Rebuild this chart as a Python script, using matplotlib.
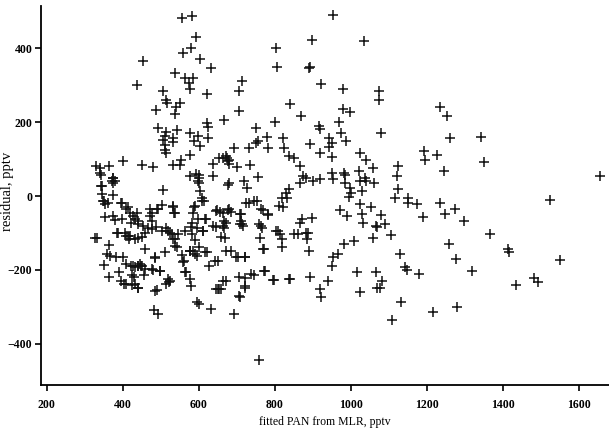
import matplotlib.pyplot as plt

# fitted PAN (pptv) and residual (pptv)
fitted = [557, 582, 953, 593, 805, 899, 1035, 581, 559, 454, 604, 807, 891, 893, 634, 537,
          565, 585, 437, 922, 575, 577, 621, 506, 707, 714, 979, 1074, 1076, 514, 707, 552,
          542, 518, 489, 840, 981, 1235, 1253, 999, 870, 667, 539, 801, 622, 624, 917, 919,
          970, 493, 514, 544, 1261, 1344, 1081, 975, 577, 751, 598, 624, 513, 506, 533, 532,
          512, 512, 514, 588, 604, 782, 756, 750, 781, 822, 824, 944, 952, 987, 894, 943,
          693, 920, 950, 1026, 1041, 839, 852, 868, 734, 1194, 1196, 1227, 1352, 1247, 1657, 1125,
          1122, 1125, 1117, 1059, 1038, 1041, 1021, 1026, 1029, 1063, 998, 1001, 996, 950, 955, 982,
          985, 985, 875, 882, 868, 902, 920, 839, 834, 822, 702, 736, 674, 679, 664, 679,
          637, 637, 679, 677, 720, 727, 756, 754, 732, 600, 600, 602, 605, 608, 615, 578,
          506, 555, 578, 550, 534, 452, 479, 401, 331, 341, 343, 365, 375, 375, 372, 346,
          345, 375, 349, 354, 399, 354, 375, 380, 365, 327, 332, 385, 398, 410, 420, 428,
          432, 423, 441, 453, 466, 409, 417, 450, 440, 458, 359, 366, 384, 351, 365, 391,
          410, 423, 432, 446, 449, 440, 460, 426, 429, 404, 424, 440, 456, 479, 499, 486,
          490, 484, 493, 513, 526, 522, 503, 494, 473, 471, 478, 488, 514, 519, 529, 532,
          534, 535, 544, 556, 561, 568, 546, 564, 579, 583, 595, 587, 586, 590, 586, 577,
          580, 590, 595, 600, 598, 612, 620, 622, 627, 637, 610, 595, 602, 633, 651, 658,
          652, 648, 656, 667, 673, 678, 685, 669, 671, 685, 693, 707, 707, 722, 722, 703,
          722, 714, 712, 716, 747, 762, 767, 770, 782, 772, 774, 760, 798, 805, 810, 815,
          820, 820, 840, 862, 866, 871, 882, 886, 888, 890, 893, 899, 919, 922, 940, 951,
          954, 968, 984, 972, 990, 1010, 1016, 1026, 1026, 1029, 1034, 1053, 1059, 1067, 1070, 1067,
          1070, 1077, 1083, 1081, 1091, 1106, 1108, 1129, 1132, 1143, 1148, 1151, 1150, 1176, 1179, 1190,
          1216, 1235, 1249, 1259, 1276, 1278, 1281, 1298, 1319, 1366, 1413, 1417, 1435, 1482, 1494, 1525,
          1552, 340, 375, 379, 343, 352, 361, 397, 415, 437, 490, 477, 533, 537, 415, 432,
          441, 458, 406, 419, 388, 401, 428, 441, 450, 485, 477, 499, 397, 410, 432, 441,
          519, 515, 485, 477, 503, 525, 537, 537, 560, 565, 578, 578, 583, 655, 672, 677,
          594, 598, 829, 820, 812, 725, 747, 590, 616, 647, 664, 681, 708, 712, 765, 782,
          760, 668, 612, 647, 664, 708, 660, 616, 672, 699, 721, 643, 765, 769, 852, 664,
          647, 655, 721, 738, 773, 795, 838, 708]
residual = [483, 489, 492, 432, 402, 422, 420, 400, 388, 366, 372, 349, 346, 351, 346, 333,
            319, 320, 302, 305, 306, 291, 276, 285, 285, 313, 289, 284, 261, 261, 231, 252,
            240, 252, 234, 249, 236, 240, 216, 227, 216, 207, 222, 200, 198, 186, 191, 182,
            200, 184, 173, 180, 156, 159, 171, 171, 171, 184, 162, 158, 162, 153, 158, 147,
            137, 126, 117, 149, 135, 131, 149, 144, 159, 158, 131, 158, 144, 149, 140, 133,
            129, 117, 105, 117, 99, 108, 102, 81, 129, 122, 99, 110, 92, 69, 54, 81,
            55, 18, -4, 76, 50, 41, 69, 41, 14, 36, 22, 9, -3, 63, 47, 63,
            56, 36, 54, 50, 36, 42, 47, 18, -4, -31, 78, 84, 104, 99, 104, 86,
            86, 54, 36, 31, 41, 22, 51, -14, -19, 58, 49, 36, 14, -4, -14, 54,
            15, 99, 112, 84, 83, 83, 78, 95, 81, 77, 58, 81, 49, 36, 41, 27,
            5, 2, -14, -22, -18, -56, -54, -65, -133, -114, -114, -99, -63, -36, -45, -54,
            -63, -72, -67, -81, -88, -108, -117, -112, -76, -144, -157, -162, -166, -186, -220, -207,
            -183, -189, -193, -184, -191, -189, -198, -213, -219, -239, -240, -248, -213, -201, -204, -168,
            -256, -309, -320, -153, -230, -234, -24, -36, -36, -54, -67, -84, -87, -94, -102, -117,
            -31, -45, -139, -160, -177, -207, -102, -94, -85, -72, -87, -31, -45, -120, -148, -148,
            -243, -156, -162, -139, -63, -94, -63, -153, -189, -81, -14, -288, -292, -306, -252, -252,
            -176, -39, -42, -86, -72, -39, -42, -114, -230, -148, -320, -272, -219, -221, -248, -165,
            -165, -76, -50, -81, -213, -114, -87, -39, -51, -144, -203, -444, -228, -96, -96, -104,
            -117, -139, -225, -104, -73, -63, -101, -117, -101, -148, -219, -60, -252, -274, -230, -191,
            -166, -157, -130, -39, -54, -121, -207, -261, -22, -50, -72, -30, -114, -81, -85, -207,
            -248, -248, -230, -51, -76, -106, -337, -156, -288, -193, -201, -4, -18, -22, -211, -58,
            -315, -18, -49, -130, -36, -171, -300, -67, -202, -103, -144, -153, -240, -222, -234, -11,
            -174, 63, 50, 40, 27, -14, -19, -19, -30, -45, -36, -45, -27, -45, -108, -117,
            -113, -99, -99, -108, -99, -166, -189, -189, -189, -166, -198, -203, -230, -239, -239, -248,
            -226, -239, -257, -90, -94, -99, -117, -135, -180, -207, -226, -149, -103, 103, 108, 94,
            59, 41, 9, -4, -27, -19, -14, -27, -63, -41, -45, -36, -50, -68, -36, -50,
            -77, -68, -94, -85, -81, -77, -112, -153, -148, -166, -166, -175, -81, -144, -103, -230,
            -252, -252, -243, -211, -203, -228, -225, -273]

plt.rcParams['font.family'] = ['Liberation Serif', 'DejaVu Serif']
plt.rcParams['font.weight'] = 'bold'

fig = plt.figure(figsize=(6.09, 4.32), dpi=100)
ax = fig.add_axes([0.067, 0.109, 0.933, 0.877])
ax.plot(fitted, residual, linestyle='none', marker='+', color='#111111',
        markersize=7, markeredgewidth=1.1)

ax.set_xlim(185, 1680)
ax.set_ylim(-512, 515)
ax.set_xticks([200, 400, 600, 800, 1000, 1200, 1400, 1600])
ax.set_yticks([-400, -200, 0, 200, 400])
ax.spines['top'].set_visible(False)
ax.spines['right'].set_visible(False)
ax.spines['left'].set_linewidth(1.3)
ax.spines['bottom'].set_linewidth(1.3)
ax.tick_params(direction='out', length=4, width=1.2, labelsize=8.5, pad=2)
ax.tick_params(axis='x', pad=6)
ax.set_xlabel('fitted PAN from MLR, pptv', fontsize=8.5, labelpad=4)
ax.set_ylabel('residual, pptv', fontsize=10.5)
ax.yaxis.set_label_coords(-0.048, 0.51)

fig.savefig('out.png', dpi=100)
